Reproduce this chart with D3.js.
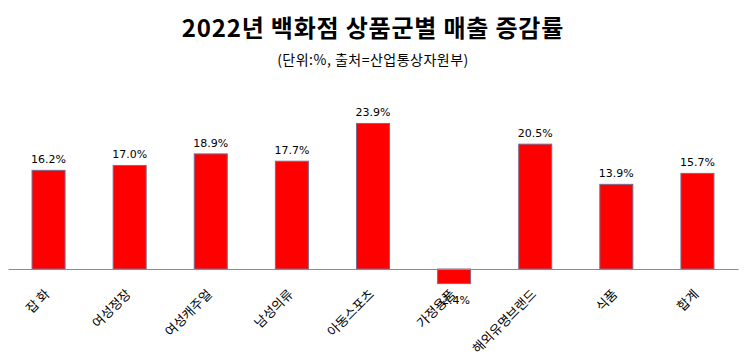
<!DOCTYPE html>
<html><head><meta charset="utf-8">
<script src="https://cdn.jsdelivr.net/npm/d3@7"></script>
<style>
html,body{margin:0;padding:0;background:#fff;}
svg{display:block;}
</style>
</head><body>
<svg id="chart" width="746" height="360"></svg>
<script>
const titleText = "2022년 백화점 상품군별 매출 증감률";
const subtitleText = "(단위:%, 출처=산업통상자원부)";
const categories = ["잡 화","여성정장","여성캐주얼","남성의류","아동스포츠","가정용품","해외유명브랜드","식품","합계"];
const values = [16.2, 17.0, 18.9, 17.7, 23.9, -2.4, 20.5, 13.9, 15.7];
const valueLabels = ["16.2%","17.0%","18.9%","17.7%","23.9%","-2.4%","20.5%","13.9%","15.7%"];

const svg = d3.select("#chart");
const axisY = 269;

svg.append("text").attr("x", 373).attr("y", 37).attr("text-anchor","middle")
  .attr("font-family","'Noto Sans CJK KR', sans-serif").attr("font-weight","bold")
  .attr("font-size", 24).attr("letter-spacing", 0.8).attr("fill","#000").text(titleText);
svg.append("text").attr("x", 373).attr("y", 65).attr("text-anchor","middle")
  .attr("font-family","'Noto Sans CJK KR', sans-serif")
  .attr("font-size", 14).attr("letter-spacing", 0.5).attr("fill","#000").text(subtitleText);

const p = 0.593;
const x = d3.scaleBand().domain(categories).range([8, 738]).paddingInner(p).paddingOuter(p/2);
const y = d3.scaleLinear().domain([-5, 25]).range([axisY + 5*6.09, axisY - 25*6.09]);

const data = categories.map((c,i)=>({c, v: values[i], l: valueLabels[i]}));

svg.append("g").selectAll("rect").data(data).join("rect")
  .attr("x", d => x(d.c))
  .attr("width", x.bandwidth())
  .attr("y", d => Math.min(y(d.v), y(0)))
  .attr("height", d => Math.abs(y(d.v) - y(0)))
  .attr("fill", "#ff0000")
  .attr("stroke", "#7d6a8c")
  .attr("stroke-width", 1);

const ax = svg.append("g").attr("transform", `translate(0,${axisY})`)
  .call(d3.axisBottom(x).tickSize(0).tickSizeOuter(0));
ax.select(".domain").attr("stroke", "#8c8c8c").attr("stroke-width", 1.2);
ax.selectAll(".tick text")
  .attr("font-family","'Noto Sans CJK KR', sans-serif")
  .attr("font-size", 13).attr("fill", "#000")
  .attr("text-anchor","end")
  .attr("dy", null).attr("y", null)
  .attr("transform", "translate(2,26) rotate(-45)");

svg.append("g").selectAll("text").data(data).join("text")
  .attr("x", d => x(d.c) + x.bandwidth()/2)
  .attr("y", d => d.v >= 0 ? y(d.v) - 7 : y(d.v) + 20)
  .attr("text-anchor","middle")
  .attr("font-family","'DejaVu Sans', sans-serif")
  .attr("font-size", 11).attr("fill","#000")
  .text(d => d.l);
</script>
</body></html>
